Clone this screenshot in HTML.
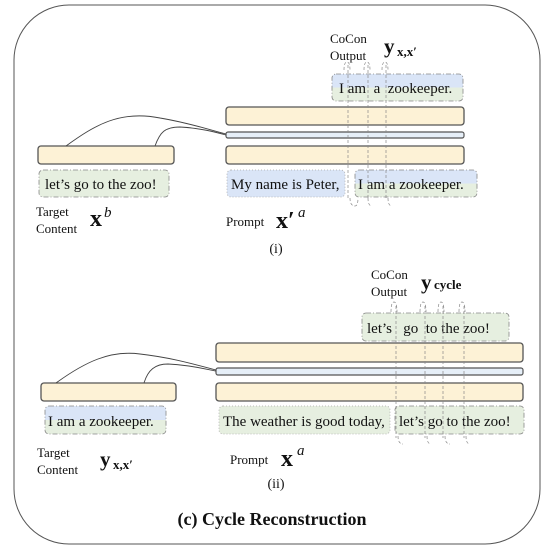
<!DOCTYPE html>
<html><head><style>
body{margin:0;background:#fff;}
svg text{font-family:"Liberation Serif",serif;fill:#111;}
</style></head><body>
<svg width="551" height="547" viewBox="0 0 551 547" xmlns="http://www.w3.org/2000/svg">
<defs>
<linearGradient id="bg" x1="0" y1="0" x2="0" y2="1"><stop offset="0.5" stop-color="#dae5f7"/><stop offset="0.5" stop-color="#e6efe0"/></linearGradient>
</defs>
<rect x="14" y="5" width="526" height="539" rx="55" fill="#fff" stroke="#555" stroke-width="1"/>

<!-- panel i -->
<text x="330" y="43" font-size="13">CoCon</text>
<text x="330" y="60" font-size="13">Output</text>
<text x="384" y="53" font-size="21" font-weight="bold">y</text><text x="397" y="56" font-size="13" font-weight="bold">x,x′</text>
<rect x="332" y="74" width="131" height="27" rx="4" fill="url(#bg)" stroke="#888" stroke-dasharray="5,2,1,2" stroke-width="0.8"/>
<text x="339" y="93" font-size="15" xml:space="preserve">I am  a  zookeeper.</text>
<rect x="226" y="107" width="238" height="18" rx="3" fill="#fdf2d6" stroke="#555" stroke-width="1.3"/>
<rect x="226" y="132" width="238" height="6" rx="2" fill="#e6eff8" stroke="#555" stroke-width="1.2"/>
<rect x="226" y="146" width="238" height="18" rx="3" fill="#fdf2d6" stroke="#555" stroke-width="1.3"/>
<rect x="38" y="146" width="136" height="18" rx="3" fill="#fdf2d6" stroke="#555" stroke-width="1.3"/>
<path d="M66 146 C95 125,120 110,160 118 C190 123,210 130,226 134" fill="none" stroke="#444" stroke-width="0.9"/>
<path d="M155 146 C160 132,165 127,180 127 C200 128,215 132,226 135" fill="none" stroke="#444" stroke-width="0.9"/>
<rect x="39" y="170" width="130" height="27" rx="4" fill="#e6efe0" stroke="#888" stroke-dasharray="5,2,1,2" stroke-width="0.8"/>
<text x="45" y="189" font-size="15">let’s go to the zoo!</text>
<rect x="227" y="170" width="118" height="27" rx="4" fill="#dae5f7" stroke="#aaa" stroke-dasharray="1,2" stroke-width="0.8"/>
<text x="231" y="189" font-size="15">My name is Peter,</text>
<rect x="355" y="170" width="122" height="27" rx="4" fill="url(#bg)" stroke="#888" stroke-dasharray="5,2,1,2" stroke-width="0.8"/>
<text x="358" y="189" font-size="15">I am a zookeeper.</text>
<g fill="none" stroke="#888" stroke-width="0.7" stroke-dasharray="3,2">
<path d="M348 65 V200 M368 65 V200 M386 65 V200"/>
<path d="M344 70 Q344 62 347 62 Q350 62 350 70 M364 70 Q364 62 367 62 Q370 62 370 70 M382 70 Q382 62 385 62 Q388 62 388 70"/>
<path d="M350 198 Q350 206 355 206 Q358 206 358 198 M368 198 Q368 206 372 206 M388 198 Q388 206 392 206"/>
</g>
<text x="36" y="216" font-size="13">Target</text>
<text x="36" y="233" font-size="13">Content</text>
<text x="90" y="226" font-size="24" font-weight="bold">x</text><text x="104" y="217" font-size="15" font-style="italic">b</text>
<text x="226" y="226" font-size="13">Prompt</text>
<text x="276" y="228" font-size="24" font-weight="bold">x′</text><text x="298" y="217" font-size="15" font-style="italic">a</text>
<text x="276" y="253" font-size="14" text-anchor="middle">(i)</text>

<!-- panel ii -->
<text x="371" y="279" font-size="13">CoCon</text>
<text x="371" y="296" font-size="13">Output</text>
<text x="421" y="289" font-size="21" font-weight="bold">y</text><text x="434" y="289" font-size="13" font-weight="bold" fill="#555">cycle</text>
<rect x="362" y="313" width="147" height="28" rx="4" fill="#e6efe0" stroke="#888" stroke-dasharray="5,2,1,2" stroke-width="0.8"/>
<text x="367" y="333" font-size="15" xml:space="preserve">let’s   go  to the zoo!</text>
<rect x="216" y="343" width="307" height="19" rx="3" fill="#fdf2d6" stroke="#555" stroke-width="1.3"/>
<rect x="216" y="368" width="307" height="7" rx="2" fill="#e6eff8" stroke="#555" stroke-width="1.2"/>
<rect x="216" y="383" width="307" height="18" rx="3" fill="#fdf2d6" stroke="#555" stroke-width="1.3"/>
<rect x="41" y="383" width="135" height="18" rx="3" fill="#fdf2d6" stroke="#555" stroke-width="1.3"/>
<path d="M56 383 C85 362,110 350,140 354 C175 358,200 366,216 370" fill="none" stroke="#444" stroke-width="0.9"/>
<path d="M144 383 C148 370,155 364,168 364 C190 365,205 369,216 371" fill="none" stroke="#444" stroke-width="0.9"/>
<rect x="45" y="406" width="121" height="28" rx="4" fill="url(#bg)" stroke="#888" stroke-dasharray="5,2,1,2" stroke-width="0.8"/>
<text x="48" y="426" font-size="15">I am a zookeeper.</text>
<rect x="219" y="406" width="171" height="28" rx="4" fill="#e6efe0" stroke="#aaa" stroke-dasharray="1,2" stroke-width="0.8"/>
<text x="223" y="426" font-size="15">The weather is good today,</text>
<rect x="395" y="406" width="129" height="28" rx="4" fill="#e6efe0" stroke="#888" stroke-dasharray="5,2,1,2" stroke-width="0.8"/>
<text x="399" y="426" font-size="15">let’s go to the zoo!</text>
<g fill="none" stroke="#888" stroke-width="0.7" stroke-dasharray="3,2">
<path d="M396 306 V438 M425 306 V438 M443 306 V438 M464 306 V438"/>
<path d="M391 312 Q391 302 394 302 Q397 302 397 312 M420 312 Q420 302 423 302 Q426 302 426 312 M438 312 Q438 302 441 302 Q444 302 444 312 M459 312 Q459 302 462 302 Q465 302 465 312"/>
<path d="M398 436 Q398 444 403 444 M427 436 Q427 444 431 444 M445 436 Q445 444 450 444 M466 436 Q466 444 470 444"/>
</g>
<text x="37" y="457" font-size="13">Target</text>
<text x="37" y="474" font-size="13">Content</text>
<text x="100" y="466" font-size="21" font-weight="bold">y</text><text x="113" y="469" font-size="13" font-weight="bold">x,x′</text>
<text x="230" y="464" font-size="13">Prompt</text>
<text x="281" y="466" font-size="24" font-weight="bold">x</text><text x="297" y="455" font-size="15" font-style="italic">a</text>
<text x="276" y="488" font-size="14" text-anchor="middle">(ii)</text>

<text x="272" y="525" font-size="18" font-weight="bold" text-anchor="middle">(c) Cycle Reconstruction</text>
</svg>
</body></html>
